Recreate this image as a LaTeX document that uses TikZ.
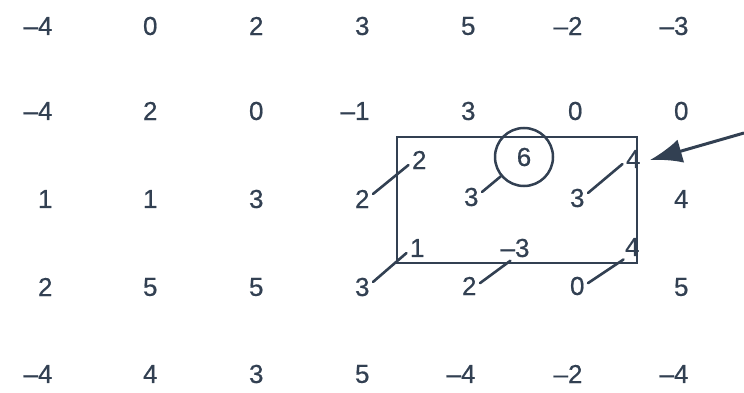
\documentclass[tikz,border=0pt]{standalone}
\usepackage{fontspec}
\setmainfont{Liberation Sans}[FakeBold=0.6]
\usepackage{tikz}
\usetikzlibrary{calc,shapes,arrows.meta}
\definecolor{ink}{RGB}{50,64,82}

\begin{document}
\begin{tikzpicture}[x=1pt,y=1pt,color=ink,
    every node/.style={font=\fontsize{26}{30}\selectfont,anchor=east},
    link/.style={line width=2.6pt,line cap=round}]
        \useasboundingbox (0,0) rectangle (744,392);
        % the grid of values
        \node (v11) at (56,366) {--4};  \node (v12) at (161,366) {0};
        \node (v13) at (267,366) {2};   \node (v14) at (373,366) {3};
        \node (v15) at (479,366) {5};   \node (v16) at (586,366) {--2};
        \node (v17) at (692,366) {--3};
        \node (v21) at (56,281) {--4};  \node (v22) at (161,281) {2};
        \node (v23) at (267,281) {0};   \node (v24) at (373,281) {--1};
        \node (v25) at (479,281) {3};   \node (v26) at (586,281) {0};
        \node (v27) at (692,281) {0};
        \node (v31) at (56,193) {1};    \node (v32) at (161,193) {1};
        \node (v33) at (267,193) {3};   \node (v34) at (373,193) {2};
        \node (v35) at (482,195) {3};   \node (v36) at (588,194) {3};
        \node (v37) at (692,193) {4};
        \node (v41) at (56,105) {2};    \node (v42) at (161,105) {5};
        \node (v43) at (267,105) {5};   \node (v44) at (373,105) {3};
        \node (v45) at (480,106) {2};   \node (v46) at (588,106) {0};
        \node (v47) at (692,105) {5};
        \node (v51) at (56,18) {--4};   \node (v52) at (161,18) {4};
        \node (v53) at (267,18) {3};    \node (v54) at (373,18) {5};
        \node (v55) at (479,18) {--4};  \node (v56) at (586,18) {--2};
        \node (v57) at (692,18) {--4};
        % the window and its shifted values
        \node[draw,line width=2.5pt,anchor=center,minimum width=240pt,minimum height=126pt] (win) at (517,192) {};
        \node (w34) at (430,232) {2};
        \node[circle,draw,line width=2.5pt,anchor=center,minimum size=58pt,inner sep=0pt] (c6) at (524,235) {6};
        \node (w36) at (644,233) {4};
        \node (w44) at (428,144) {1};
        \node (w45) at (533,144) {--3};
        \node (w46) at (643,145) {4};
        \draw[link] (v34.25) -- (w34.205);
        \draw[link] (v35.25) -- (c6);
        \draw[link] (v36.25) -- (w36.205);
        \draw[link] (v44.25) -- (w44.205);
        \draw[link] (v45.15) -- (w45.250);
        \draw[link] (v46.15) -- (w46.235);
        \coordinate (src) at (744,259);
        \coordinate (tip) at (650,232);
        \draw[line width=3pt,-{Latex[length=32pt,width=24pt,fill=ink]}] (src) -- (tip);
      \end{tikzpicture}
\end{document}
